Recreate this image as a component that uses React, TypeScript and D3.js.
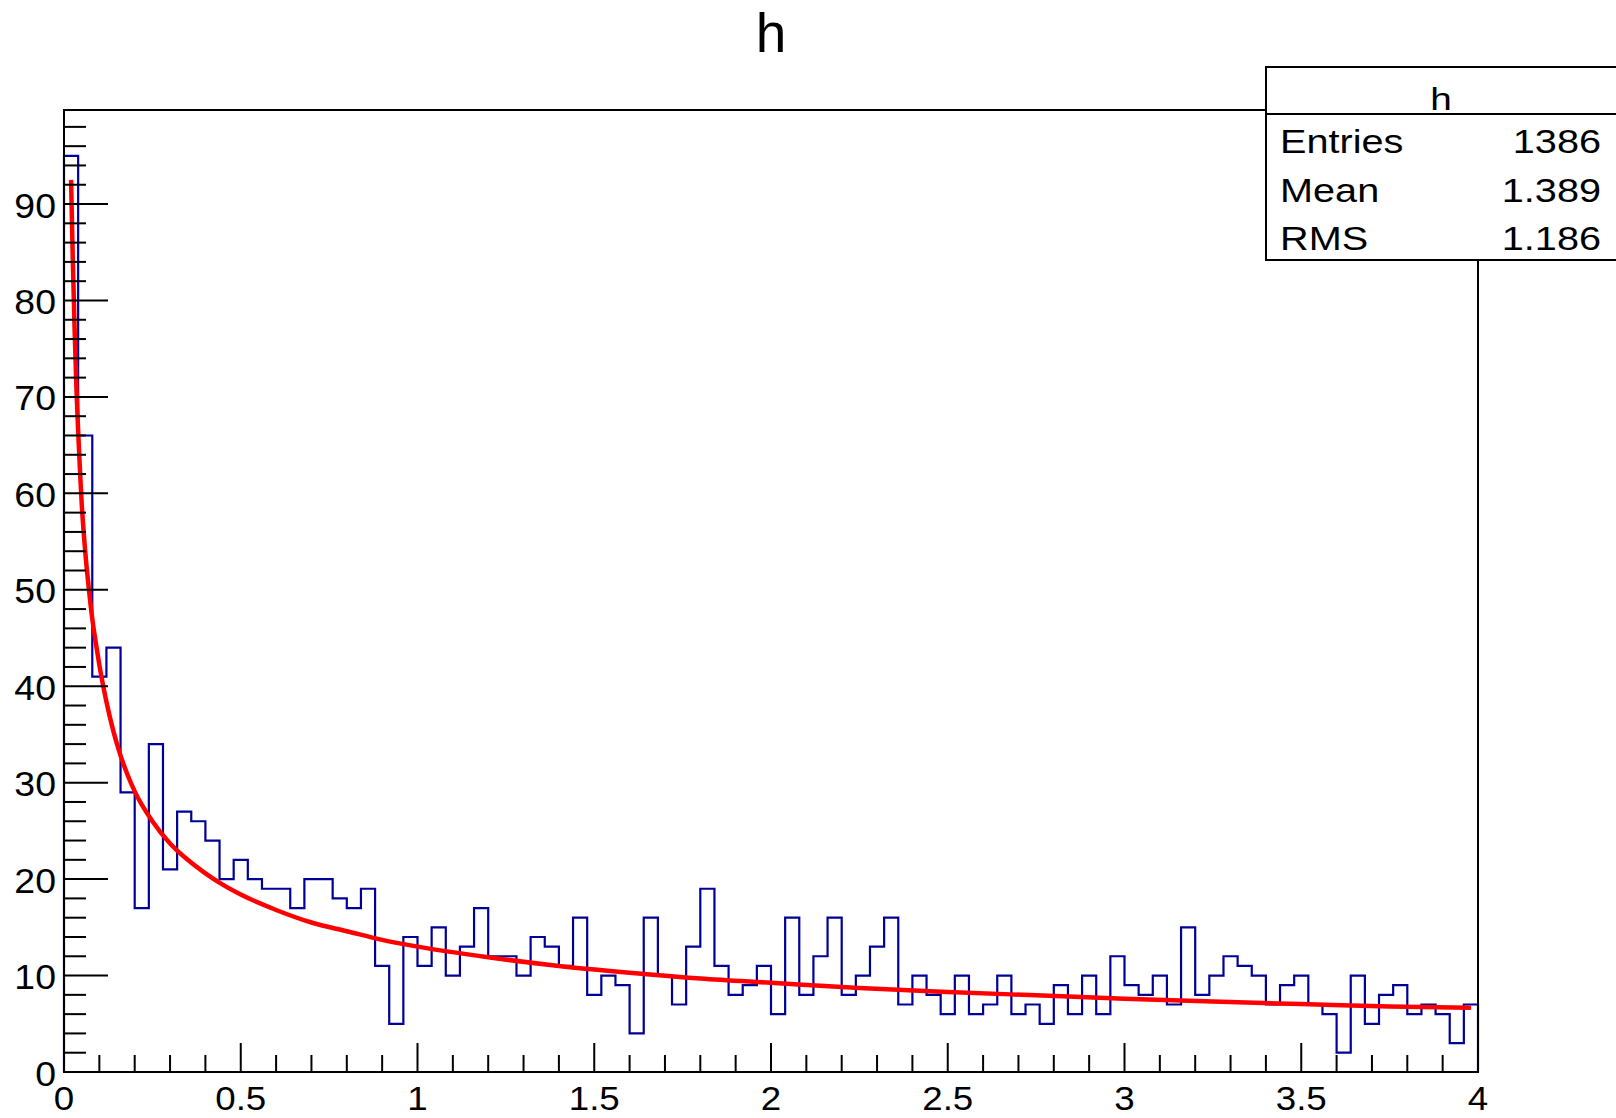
import React from "react";
import * as d3 from "d3";

// histogram contents, 100 bins of width 0.04 on [0, 4]
const counts = [
  95, 66, 41, 44, 29, 17, 34, 21, 27, 26,
  24, 20, 22, 20, 19, 19, 17, 20, 20, 18,
  17, 19, 11, 5, 14, 11, 15, 10, 13, 17,
  12, 12, 10, 14, 13, 11, 16, 8, 10, 9,
  4, 16, 10, 7, 13, 19, 11, 8, 9, 11,
  6, 16, 8, 12, 16, 8, 10, 13, 16, 7,
  10, 8, 6, 10, 6, 7, 10, 6, 7, 5,
  9, 6, 10, 6, 12, 9, 8, 10, 7, 15,
  8, 10, 12, 11, 10, 7, 9, 10, 7, 6,
  2, 10, 5, 8, 9, 6, 7, 6, 3, 7,
];

// fitted curve
const fitX = [
  0.02, 0.025, 0.03, 0.035, 0.04, 0.045, 0.05, 0.06, 0.07, 0.08, 0.09, 0.1,
  0.12, 0.14, 0.16, 0.18, 0.2, 0.25, 0.3, 0.35, 0.4, 0.45, 0.5, 0.6, 0.7,
  0.8, 0.9, 1.0, 1.2, 1.4, 1.6, 1.8, 2.0, 2.25, 2.5, 2.75, 3.0, 3.25, 3.5,
  3.75, 3.98,
];
const fitY = [
  92.5, 84, 77, 71, 66.5, 62.5, 59, 54, 50.2, 47, 44.5, 42.2,
  38.4, 35.3, 32.8, 30.8, 29.1, 26.0, 23.7, 22.0, 20.6, 19.4, 18.4, 16.8, 15.5,
  14.6, 13.7, 13.0, 11.9, 11.0, 10.3, 9.7, 9.25, 8.7, 8.3, 7.95, 7.6, 7.3, 7.05,
  6.8, 6.65,
];

const xTickLabels = ["0", "0.5", "1", "1.5", "2", "2.5", "3", "3.5", "4"];
const yTickLabels = ["0", "10", "20", "30", "40", "50", "60", "70", "80", "90"];

const title = "h";
const statLabels = ["Entries", "Mean", "RMS"];
const statValues = ["1386", "1.389", "1.186"];

const W = 1616;
const H = 1118;
const FONT = "'Liberation Sans', Arial, Helvetica, sans-serif";

export default function App() {
  const binWidth = 4 / counts.length;
  const x = d3.scaleLinear().domain([0, 4]).range([64, 1478]);
  const y = d3.scaleLinear().domain([0, 99.75]).range([1072, 110]);

  // step outline of the histogram
  const pts: [number, number][] = [[0, 0]];
  counts.forEach((c, i) => {
    pts.push([i * binWidth, c]);
    pts.push([(i + 1) * binWidth, c]);
  });
  pts.push([4, 0]);
  const histPath = d3
    .line<[number, number]>()
    .x((d) => x(d[0]))
    .y((d) => y(d[1]))(pts);

  const fitPath = d3
    .line<number>()
    .x((d) => x(d))
    .y((_, i) => y(fitY[i]))
    .curve(d3.curveMonotoneX)(fitX);

  const xTicks = d3.range(0, 41).map((i) => i / 10);
  const yTicks = d3.range(0, 50).map((i) => i * 2);

  const box = { x0: 1266, y0: 67, x1: 1620, yDiv: 114, y1: 260 };
  const rowBase = [153, 202, 250];

  return (
    <svg
      width={W}
      height={H}
      style={{ position: "absolute", left: 0, top: 0, display: "block" }}
      fontFamily={FONT}
    >
      <rect x={0} y={0} width={W} height={H} fill="#fff" />

      {/* histogram */}
      <path d={histPath || ""} fill="none" stroke="#000099" strokeWidth={2.2} />

      {/* fit */}
      <path d={fitPath || ""} fill="none" stroke="#ff0000" strokeWidth={4.5} />

      {/* frame */}
      <rect
        x={x(0)}
        y={y(99.75)}
        width={x(4) - x(0)}
        height={y(0) - y(99.75)}
        fill="none"
        stroke="#000"
        strokeWidth={2}
      />

      {/* x axis ticks */}
      {xTicks.map((t, i) => (
        <line
          key={"xt" + i}
          x1={x(t)}
          x2={x(t)}
          y1={y(0)}
          y2={y(0) - (i % 5 === 0 ? 29 : 17)}
          stroke="#000"
          strokeWidth={2}
        />
      ))}
      {xTickLabels.map((s, i) => (
        <text
          key={"xl" + i}
          transform={`translate(${x(i * 0.5)},1110) scale(1.08,1)`}
          fontSize={34}
          textAnchor="middle"
          fill="#000"
        >
          {s}
        </text>
      ))}

      {/* y axis ticks */}
      {yTicks.map((t, i) => (
        <line
          key={"yt" + i}
          x1={x(0)}
          x2={x(0) + (t % 10 === 0 ? 44 : 22)}
          y1={y(t)}
          y2={y(t)}
          stroke="#000"
          strokeWidth={2}
        />
      ))}
      {yTickLabels.map((s, i) => (
        <text
          key={"yl" + i}
          transform={`translate(56,${y(i * 10) + 13.5}) scale(1.07,1)`}
          fontSize={35}
          textAnchor="end"
          fill="#000"
        >
          {s}
        </text>
      ))}

      {/* title */}
      <text x={771} y={52} fontSize={55} textAnchor="middle" fill="#000">
        {title}
      </text>

      {/* stats box */}
      <rect
        x={box.x0}
        y={box.y0}
        width={box.x1 - box.x0}
        height={box.y1 - box.y0}
        fill="#fff"
        stroke="#000"
        strokeWidth={2}
      />
      <line x1={box.x0} x2={box.x1} y1={box.yDiv} y2={box.yDiv} stroke="#000" strokeWidth={2} />
      <text
        transform={`translate(1441,110) scale(1.25,1)`}
        fontSize={31}
        textAnchor="middle"
        fill="#000"
      >
        {title}
      </text>
      {statLabels.map((s, i) => (
        <text
          key={"sl" + i}
          transform={`translate(1280,${rowBase[i]}) scale(1.22,1)`}
          fontSize={32.5}
          fill="#000"
        >
          {s}
        </text>
      ))}
      {statValues.map((s, i) => (
        <text
          key={"sv" + i}
          transform={`translate(1601,${rowBase[i]}) scale(1.22,1)`}
          fontSize={32.5}
          textAnchor="end"
          fill="#000"
        >
          {s}
        </text>
      ))}
    </svg>
  );
}
